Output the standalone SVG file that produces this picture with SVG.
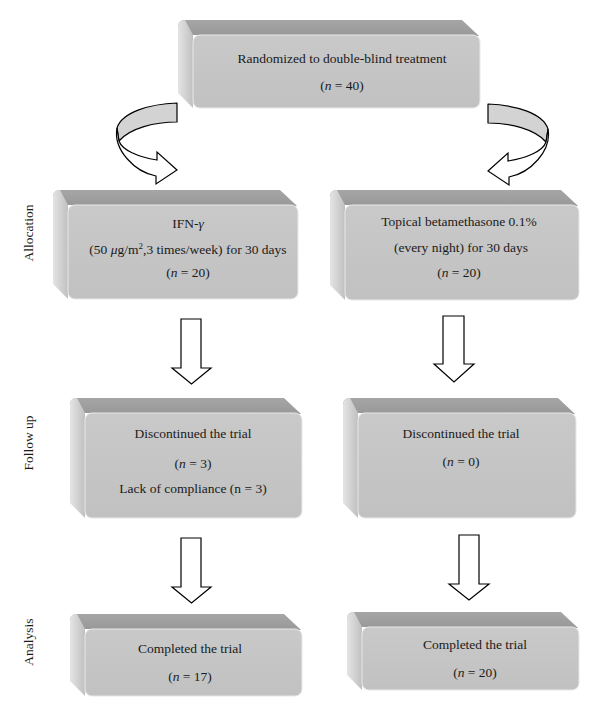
<svg xmlns="http://www.w3.org/2000/svg" xmlns:xlink="http://www.w3.org/1999/xlink" width="600" height="717" viewBox="0 0 600 717">
<defs>
<linearGradient id="gTop" x1="0" y1="0" x2="0" y2="1"><stop offset="0" stop-color="#a6a6a6"/><stop offset="1" stop-color="#989898"/></linearGradient>
<linearGradient id="gSide" x1="0" y1="0" x2="1" y2="0"><stop offset="0" stop-color="#e4e4e4"/><stop offset="1" stop-color="#c0c0c0"/></linearGradient>
<linearGradient id="gFront" x1="0" y1="0" x2="0" y2="1"><stop offset="0" stop-color="#c9c9c9"/><stop offset="1" stop-color="#c1c1c1"/></linearGradient>
<g id="curl">
<path d="M177,103 C150,104 122,112 117,128 L119,141 C130,128 155,122 177,122 Z" fill="#d3d3d3" stroke="#000" stroke-width="1.2" stroke-linejoin="round"/>
<path d="M117,128 C113,150 135,172 156,176 L156,184 L177,170 L157,152 L157,160 C138,157 122,150 119,141 Z" fill="#fff" stroke="#000" stroke-width="1.2" stroke-linejoin="miter"/>
</g>
</defs>
<style>
.top{fill:url(#gTop);}
.side{fill:url(#gSide);}
.front{fill:url(#gFront);stroke:#e8e8e8;stroke-width:1;}
.t{font-family:"Liberation Serif","Times New Roman",serif;font-size:13.5px;fill:#1a1a1a;text-anchor:middle;}
.lab{font-family:"Liberation Serif","Times New Roman",serif;font-size:13.5px;fill:#1a1a1a;text-anchor:middle;}
.blk{fill:#fff;stroke:#000;stroke-width:1.2;}
</style>
<rect width="600" height="717" fill="#fff"/>

<g id="labels">
<text class="lab" transform="translate(33,233) rotate(-90)">Allocation</text>
<text class="lab" transform="translate(33,443) rotate(-90)">Follow up</text>
<text class="lab" transform="translate(33,642) rotate(-90)">Analysis</text>
</g>

<g id="randomized" transform="translate(193,35)">
<path class="top" d="M-15,-8 Q-15,-15 -8,-15 L269,-15 L286,1 L0,0 Z"/>
<path class="side" d="M-15,-8 Q-15,-15 -8,-15 L0,0 L0,73 L-15,58 Z"/>
<rect class="front" width="287" height="73" rx="7"/>
<text class="t" x="149" y="28">Randomized to double-blind treatment</text>
<text class="t" x="149" y="55">(<tspan font-style="italic">n</tspan> = 40)</text>
</g>

<g id="ifn" transform="translate(68,205)">
<path class="top" d="M-15,-8 Q-15,-15 -8,-15 L212,-15 L229,1 L0,0 Z"/>
<path class="side" d="M-15,-8 Q-15,-15 -8,-15 L0,0 L0,94 L-15,79 Z"/>
<rect class="front" width="230" height="94" rx="7"/>
<text class="t" x="120" y="23">IFN-<tspan font-style="italic">γ</tspan></text>
<text class="t" x="120" y="49">(50 <tspan font-style="italic">μ</tspan>g/m<tspan font-size="9" dy="-5">2</tspan><tspan dy="5">,3 times/week) for 30 days</tspan></text>
<text class="t" x="120" y="72">(<tspan font-style="italic">n</tspan> = 20)</text>
</g>

<g id="beta" transform="translate(345,205)">
<path class="top" d="M-15,-8 Q-15,-15 -8,-15 L216,-15 L233,1 L0,0 Z"/>
<path class="side" d="M-15,-8 Q-15,-15 -8,-15 L0,0 L0,95 L-15,80 Z"/>
<rect class="front" width="234" height="95" rx="7"/>
<text class="t" x="114" y="21">Topical betamethasone 0.1%</text>
<text class="t" x="116" y="47">(every night) for 30 days</text>
<text class="t" x="114" y="72">(<tspan font-style="italic">n</tspan> = 20)</text>
</g>

<g id="disc1" transform="translate(85,413)">
<path class="top" d="M-15,-8 Q-15,-15 -8,-15 L199,-15 L216,1 L0,0 Z"/>
<path class="side" d="M-15,-8 Q-15,-15 -8,-15 L0,0 L0,105 L-15,90 Z"/>
<rect class="front" width="217" height="105" rx="7"/>
<text class="t" x="108" y="25">Discontinued the trial</text>
<text class="t" x="108" y="55">(<tspan font-style="italic">n</tspan> = 3)</text>
<text class="t" x="108" y="80">Lack of compliance (n = 3)</text>
</g>

<g id="disc2" transform="translate(358,413)">
<path class="top" d="M-15,-8 Q-15,-15 -8,-15 L200,-15 L217,1 L0,0 Z"/>
<path class="side" d="M-15,-8 Q-15,-15 -8,-15 L0,0 L0,105 L-15,90 Z"/>
<rect class="front" width="218" height="105" rx="7"/>
<text class="t" x="103" y="25">Discontinued the trial</text>
<text class="t" x="103" y="53">(<tspan font-style="italic">n</tspan> = 0)</text>
</g>

<g id="comp1" transform="translate(85,629)">
<path class="top" d="M-15,-8 Q-15,-15 -8,-15 L199,-15 L216,1 L0,0 Z"/>
<path class="side" d="M-15,-8 Q-15,-15 -8,-15 L0,0 L0,67 L-15,52 Z"/>
<rect class="front" width="217" height="67" rx="7"/>
<text class="t" x="105" y="24">Completed the trial</text>
<text class="t" x="105" y="52">(<tspan font-style="italic">n</tspan> = 17)</text>
</g>

<g id="comp2" transform="translate(362,627)">
<path class="top" d="M-15,-8 Q-15,-15 -8,-15 L199,-15 L216,1 L0,0 Z"/>
<path class="side" d="M-15,-8 Q-15,-15 -8,-15 L0,0 L0,63 L-15,48 Z"/>
<rect class="front" width="217" height="63" rx="7"/>
<text class="t" x="113" y="22">Completed the trial</text>
<text class="t" x="113" y="50">(<tspan font-style="italic">n</tspan> = 20)</text>
</g>

<g id="connectors">
<use xlink:href="#curl"/>
<use xlink:href="#curl" transform="matrix(-1 0 0 1 665 1)"/>
<path class="blk" d="M181,319 L201,319 L201,368 L211,368 L191.5,384 L172,368 L181,368 Z"/>
<path class="blk" d="M443,316 L464,316 L464,364 L474,364 L454,382 L434,364 L443,364 Z"/>
<path class="blk" d="M181,538 L201,538 L201,587 L211,587 L191.5,603 L172,587 L181,587 Z"/>
<path class="blk" d="M459,535 L479,535 L479,584 L489,584 L469,600 L449,584 L459,584 Z"/>
</g>
</svg>
